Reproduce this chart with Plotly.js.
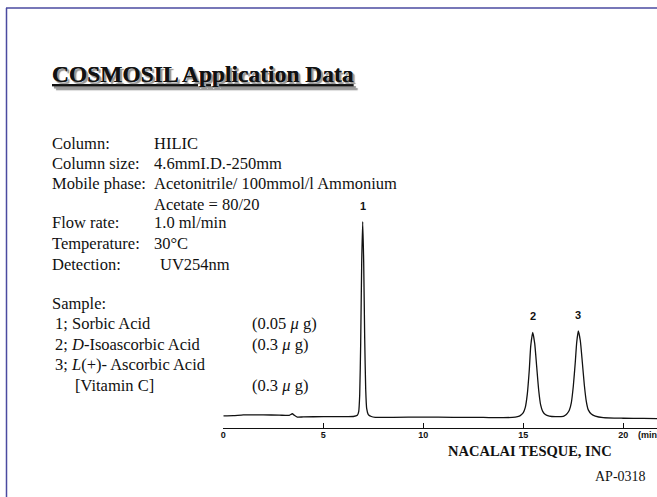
<!DOCTYPE html>
<html>
<head>
<meta charset="utf-8">
<script src="https://cdn.plot.ly/plotly-3.0.1.min.js"></script>
<style>
html,body{margin:0;padding:0;background:#fff;overflow:hidden;}
#chart{width:657px;height:497px;}
</style>
</head>
<body>
<div id="chart"></div>
<script>
// Retention time (min) and detector signal (relative units, peak 1 = 100)
const timeMin = [0, 0.5, 1.0, 2.0, 2.8, 3.3, 3.45, 3.55, 3.7, 4.0, 5.0, 6.0, 6.5, 6.7, 6.77, 6.82, 6.87, 6.92, 6.97, 7.02, 7.07, 7.12, 7.17, 7.25, 7.4, 7.6, 8.5, 10.0, 11.5, 13.0, 14.0, 14.6, 14.8, 14.9, 15.0, 15.1, 15.2, 15.3, 15.37, 15.47, 15.57, 15.67, 15.77, 15.87, 15.97, 16.1, 16.3, 16.6, 17.0, 17.1, 17.2, 17.3, 17.4, 17.5, 17.6, 17.67, 17.75, 17.85, 17.95, 18.05, 18.15, 18.25, 18.4, 18.6, 19.0, 20.0, 21.0, 21.7];
const signal = [0.3, 0.4, 0.8, 0.8, 0.7, 0.6, 1.4, 0.6, -0.3, -0.2, -0.1, -0.1, 0.0, 0.6, 2.5, 11, 38, 79, 100, 79, 40, 14, 4, 1.0, 0.0, -0.4, -0.4, -0.3, -0.4, -0.5, -0.6, -0.3, 0.2, 0.9, 2.0, 4.7, 11.5, 24, 36, 43.2, 37.5, 25.5, 13.5, 5.8, 2.6, 1.0, 0.2, -0.1, 0.1, 0.6, 1.6, 3.2, 7.0, 15.5, 28, 38, 43.9, 39, 28, 16.3, 7.8, 3.4, 1.3, 0.2, -0.6, -0.9, -1.0, -1.1];

// Peak labels
const peakLabels = ["1", "2", "3"];
const peakTimes = [6.97, 15.47, 17.75];
const peakLabelY = [108, 51.6, 52.2];

// Axis ticks
const tickValues = [0, 5, 10, 15, 20];
const tickLabels = ["0", "5", "10", "15", "20"];

// Page texts
const titleText = "COSMOSIL Application Data";
const condLabels = ["Column:", "Column size:", "Mobile phase:", "", "Flow rate:", "Temperature:", "Detection:"];
const condValues = ["HILIC", "4.6mmI.D.-250mm", "Acetonitrile/ 100mmol/l Ammonium", "Acetate = 80/20", "1.0 ml/min", "30°C", "UV254nm"];
const sampleNames = ["1; Sorbic Acid", "2; <i>D</i>-Isoascorbic Acid", "3; <i>L</i>(+)- Ascorbic Acid", "[Vitamin C]"];
const sampleAmounts = ["(0.05 <i>μ</i> g)", "(0.3 <i>μ</i> g)", "", "(0.3 <i>μ</i> g)"];
const companyText = "NACALAI TESQUE, INC";
const codeText = "AP-0318";
const unitText = "(min)";

const W = 657, H = 497;
const px = v => v / W;
const py = v => 1 - v / H;
const serif = "Liberation Serif, Times New Roman, serif";
const sans = "Liberation Sans, Arial, sans-serif";

const annotations = [];
function txt(x, y, text, font, xanchor) {
  annotations.push({xref: 'paper', yref: 'paper', x: px(x), y: py(y), text: text,
    showarrow: false, xanchor: xanchor || 'left', yanchor: 'middle', font: font});
}
const bodyFont = {family: serif, size: 16.5, color: '#111'};

txt(50, 74, titleText, {family: serif, size: 23.5, weight: 'bold', color: '#111', lineposition: 'under', shadow: '2px 2px 1px #999'});

const condY = [143, 163, 183, 204, 223, 243, 264];
const condX = [152, 152, 152, 152, 152, 152, 158];
condLabels.forEach((t, i) => { if (t) txt(50, condY[i], t, bodyFont); });
condValues.forEach((t, i) => txt(condX[i], condY[i], t, bodyFont));

txt(50, 303, "Sample:", bodyFont);
const sampY = [323, 344, 364, 385];
const sampX = [53, 53, 53, 73];
sampleNames.forEach((t, i) => txt(sampX[i], sampY[i], t, bodyFont));
sampleAmounts.forEach((t, i) => { if (t) txt(250, sampY[i], t, bodyFont); });

txt(530, 451, companyText, {family: serif, size: 14.5, weight: 'bold', color: '#111'}, 'center');
txt(648, 476, codeText, {family: serif, size: 14, color: '#111'}, 'right');
txt(636, 435, unitText, {family: sans, size: 9, weight: 'bold', color: '#111'});

peakLabels.forEach((t, i) => annotations.push({xref: 'x', yref: 'y', x: peakTimes[i], y: peakLabelY[i], text: t,
  showarrow: false, xanchor: 'center', yanchor: 'middle', font: {family: sans, size: 11, weight: 'bold', color: '#111'}}));

const data = [{
  x: timeMin, y: signal, type: 'scatter', mode: 'lines',
  line: {color: '#111', width: 1.3, shape: 'spline', smoothing: 0.5},
  hoverinfo: 'skip'
}];

const plotLeft = 223.3, plotTop = 150, plotBottom = 427.7;
const layout = {
  width: W, height: H,
  margin: {l: 0, r: 0, t: 0, b: 0},
  paper_bgcolor: '#fff', plot_bgcolor: 'rgba(0,0,0,0)',
  showlegend: false,
  xaxis: {
    domain: [plotLeft / W, 1], range: [0, (W - plotLeft) / 20],
    showgrid: false, zeroline: false, showline: true, linecolor: '#111', linewidth: 1.5,
    ticks: 'inside', ticklen: 5, tickwidth: 1.5, tickcolor: '#111',
    ticklabelstandoff: -2,
    tickvals: tickValues, ticktext: tickLabels,
    tickfont: {family: sans, size: 9, weight: 'bold', color: '#111'}
  },
  yaxis: {
    domain: [1 - plotBottom / H, 1 - plotTop / H], range: [-5.75, 136.8],
    visible: false, showgrid: false, zeroline: false
  },
  shapes: [
    {type: 'line', xref: 'paper', yref: 'paper', x0: px(6.5), x1: px(6.5), y0: py(8), y1: py(497), line: {color: '#4a4aa0', width: 1.5}},
    {type: 'line', xref: 'paper', yref: 'paper', x0: px(6), x1: 1, y0: py(8), y1: py(8), line: {color: '#4a4aa0', width: 1.5}}
  ],
  annotations: annotations
};

Plotly.newPlot('chart', data, layout, {displayModeBar: false, staticPlot: true});
</script>
</body>
</html>
